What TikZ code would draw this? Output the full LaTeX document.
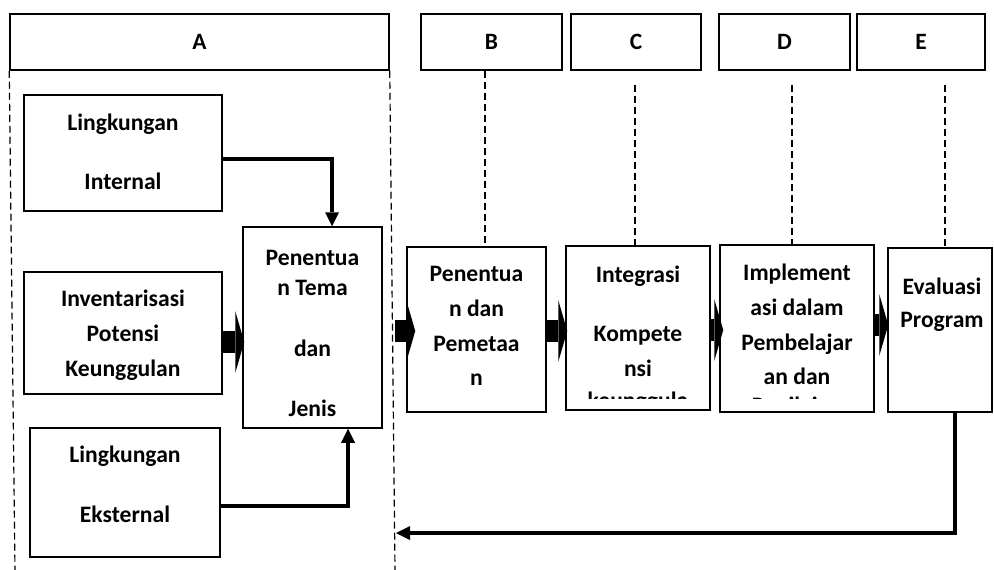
\documentclass[tikz,border=0pt]{standalone}
\usepackage{fontspec}
\setmainfont{Carlito}
\usetikzlibrary{arrows.meta,positioning,calc}

\tikzset{
  hdr/.style={draw, line width=1.5pt, minimum height=56pt, inner sep=0pt,
    font=\bfseries\fontsize{23.4}{28}\selectfont},
  stagebox/.style={draw, line width=1.5pt, inner sep=0pt},
  txt/.style={align=center, inner sep=0pt,
    font=\bfseries\fontsize{23.6}{34.8}\selectfont},
  guide/.style={dash pattern=on 7pt off 4pt, line width=1.2pt},
  elbow/.style={line width=4.5pt, -{Triangle[width=14pt,length=14pt,line width=0pt]}},
  blockarr/.style={line width=22pt, -{Triangle[width=62pt,length=9pt,line width=0pt]}}
}

\begin{document}
\begin{tikzpicture}[x=1pt, y=-1pt]
    \useasboundingbox (0,0) rectangle (994,570);

    % header boxes
    \node[hdr, minimum width=379pt] (hA) at (199.5,42) {A};
    \node[hdr, minimum width=141pt] (hB) at (491.5,42) {B};
    \node[hdr, minimum width=130pt] (hC) at (636,42) {C};
    \node[hdr, minimum width=131pt] (hD) at (784.5,42) {D};
    \node[hdr, minimum width=128pt] (hE) at (921,42) {E};

    % stage boxes
    \node[stagebox, minimum width=198pt, minimum height=116pt] (lint) at (123,153) {};
    \node[stagebox, minimum width=198pt, minimum height=122pt] (inv) at (123,333) {};
    \node[stagebox, minimum width=190pt, minimum height=129pt] (lext) at (125,492.5) {};
    \node[stagebox, minimum width=139pt, minimum height=201pt] (pen) at (312.5,327.5) {};
    \node[stagebox, minimum width=139pt, minimum height=165pt] (pB) at (476.5,329.5) {};
    \node[stagebox, minimum width=144pt, minimum height=164pt] (pC) at (638,328) {};
    \node[stagebox, minimum width=154pt, minimum height=167pt] (pD) at (797,328.5) {};
    \node[stagebox, minimum width=104pt, minimum height=164pt] (pE) at (940,330) {};

    % texts
    \node[txt] at ($(lint)+(0,-1)$) {Lingkungan\\[24.5pt]Internal};
    \node[txt] at ($(inv)+(0,2)$) {Inventarisasi\\Potensi\\Keunggulan};
    \node[txt] at ($(lext)+(0,-8)$) {Lingkungan\\[25.5pt]Eksternal};
    \node[txt] at ($(pen)+(0,5.5)$) {Penentua\\[-4.5pt]n Tema\\[26pt]dan\\[25pt]Jenis};
    \node[txt] at ($(pB)+(0,-3.5)$) {Penentua\\n dan\\Pemetaa\\n};
    \begin{scope}
        \clip (pC.north west) rectangle ($(pC.south east)+(0,-12)$);
        \node[txt] at ($(pC)+(0,11)$) {Integrasi\\[25pt]Kompete\\nsi\\[-3pt]keunggula};
    \end{scope}
    \begin{scope}
        \clip (pD.north west) rectangle ($(pD.south east)+(0,-14)$);
        \node[txt] at ($(pD)+(0,10.5)$) {Implement\\asi dalam\\Pembelajar\\an dan\\[-6pt]Penilaian};
    \end{scope}
    \node[txt] at ($(pE)+(2,-25.5)$) {Evaluasi\\[-1.5pt]Program};

    % dashed guides
    \coordinate (botL) at (15,570);
    \coordinate (botR) at (395,570);
    \draw[guide] (hA.south west) -- (botL);
    \draw[guide] (hA.south east) -- (botR);
    \coordinate (gB) at (485,0);
    \coordinate (gC) at (635,0);
    \coordinate (gD) at (792,0);
    \coordinate (gE) at (945,0);
    \draw[guide] (hB.south -| gB) -- (pB.north -| gB);
    \draw[guide] ($(hC.south -| gC)+(0,14)$) -- (pC.north -| gC);
    \draw[guide] ($(hD.south -| gD)+(0,14)$) -- (pD.north -| gD);
    \draw[guide] ($(hE.south -| gE)+(0,14)$) -- (pE.north -| gE);

    % elbow connectors
    \coordinate (e1) at (332,159);
    \coordinate (e2) at (348,506);
    \draw[elbow] (lint.east |- e1) -| (pen.north -| e1);
    \draw[elbow] (lext.east |- e2) -| (pen.south -| e2);
    \coordinate (fb) at (955,533);
    \coordinate (fbEnd) at (396,533);
    \draw[elbow] (pE.south -| fb) |- (fbEnd);

    % block arrows
    \coordinate (r1) at (0,342);
    \coordinate (a2) at (395,331);
    \coordinate (r3) at (0,331);
    \coordinate (r4) at (0,330);
    \coordinate (r5) at (0,325);
    \draw[blockarr] (inv.east |- r1) -- ($(pen.west |- r1)+(2,0)$);
    \draw[blockarr] (a2) -- ($(pB.west |- a2)+(9,0)$);
    \draw[blockarr] (pB.east |- r3) -- ($(pC.west |- r3)+(2,0)$);
    \draw[blockarr] (pC.east |- r4) -- ($(pD.west |- r4)+(4,0)$);
    \draw[blockarr] (pD.east |- r5) -- ($(pE.west |- r5)+(1,0)$);
\end{tikzpicture}
\end{document}
